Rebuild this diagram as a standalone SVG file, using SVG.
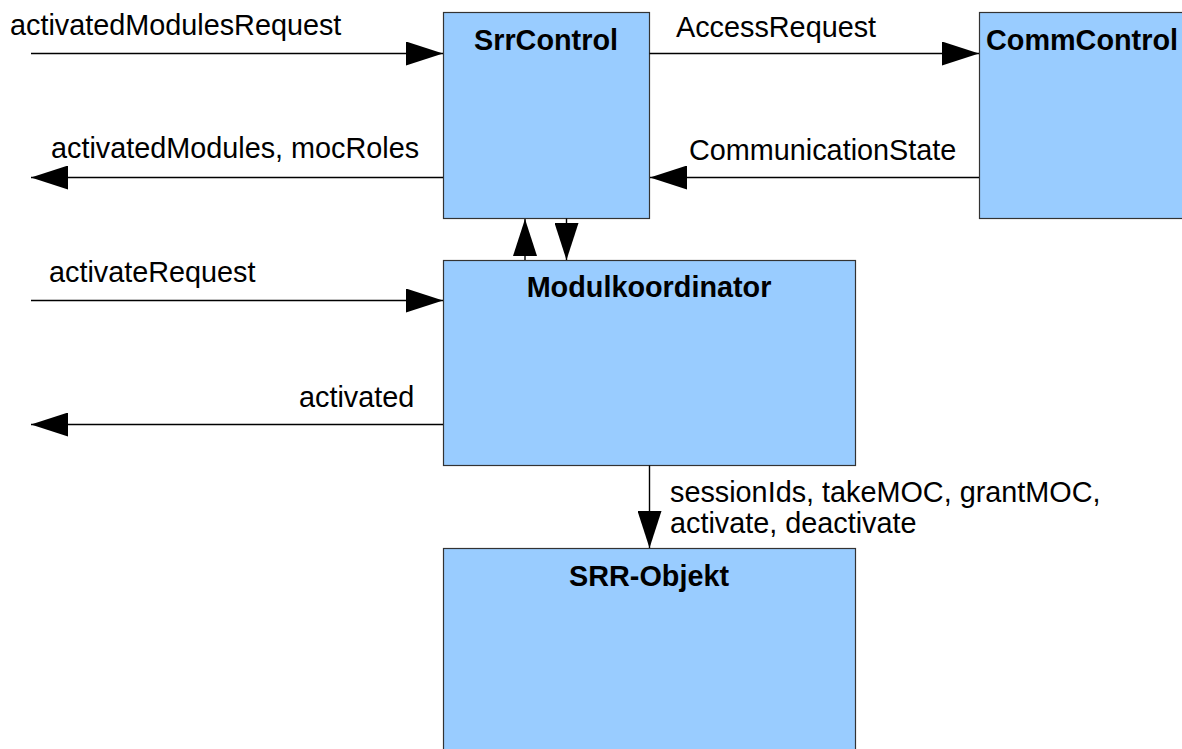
<svg xmlns="http://www.w3.org/2000/svg" width="1182" height="749" viewBox="0 0 1182 749">
  <style>
    .box { fill: #99ccff; stroke: #333333; stroke-width: 1.2; }
    .title { font-family: "Liberation Sans", Arial, sans-serif; font-size: 28.8px; font-weight: bold; fill: #000; text-anchor: middle; }
    .lbl { font-family: "Liberation Sans", Arial, sans-serif; font-size: 28.8px; fill: #000; }
    .flow { stroke: #000; stroke-width: 1.4; fill: none; marker-end: url(#head); }
  </style>
  <defs>
    <marker id="head" markerUnits="userSpaceOnUse" markerWidth="37" markerHeight="24" refX="37" refY="12" orient="auto">
      <path d="M0,0 L37,12 L0,24 Z" fill="#000"/>
    </marker>
  </defs>
  <rect width="1182" height="749" fill="#ffffff"/>

  <!-- components -->
  <g id="srrcontrol">
    <rect class="box" x="443.5" y="12.5" width="206" height="206"/>
    <text class="title" x="546" y="50">SrrControl</text>
  </g>
  <g id="commcontrol">
    <rect class="box" x="979.5" y="12.5" width="206" height="206"/>
    <text class="title" x="1082" y="50">CommControl</text>
  </g>
  <g id="modulkoordinator">
    <rect class="box" x="443.5" y="260.5" width="412" height="205"/>
    <text class="title" x="649" y="297">Modulkoordinator</text>
  </g>
  <g id="srr-objekt">
    <rect class="box" x="443.5" y="548.5" width="412" height="215"/>
    <text class="title" x="649" y="586">SRR-Objekt</text>
  </g>

  <!-- signal flows -->
  <g id="connectors">
    <line class="flow" x1="31" y1="53.5" x2="443" y2="53.5"/>
    <line class="flow" x1="443" y1="177.5" x2="31" y2="177.5"/>
    <line class="flow" x1="649.5" y1="53.5" x2="979" y2="53.5"/>
    <line class="flow" x1="979" y1="177.5" x2="650" y2="177.5"/>
    <line class="flow" x1="525" y1="260" x2="525" y2="219"/>
    <line class="flow" x1="566.5" y1="218.5" x2="566.5" y2="260"/>
    <line class="flow" x1="31" y1="300.5" x2="443" y2="300.5"/>
    <line class="flow" x1="443" y1="424.5" x2="31" y2="424.5"/>
    <line class="flow" x1="649.5" y1="465.5" x2="649.5" y2="548"/>
  </g>

  <!-- flow labels -->
  <g id="labels">
    <text class="lbl" x="10" y="35">activatedModulesRequest</text>
    <text class="lbl" x="51" y="158">activatedModules, mocRoles</text>
    <text class="lbl" x="676" y="37">AccessRequest</text>
    <text class="lbl" x="689" y="160">CommunicationState</text>
    <text class="lbl" x="49" y="282">activateRequest</text>
    <text class="lbl" x="299" y="407">activated</text>
    <text class="lbl" x="670" y="502">sessionIds, takeMOC, grantMOC,</text>
    <text class="lbl" x="670" y="533">activate, deactivate</text>
  </g>
</svg>
